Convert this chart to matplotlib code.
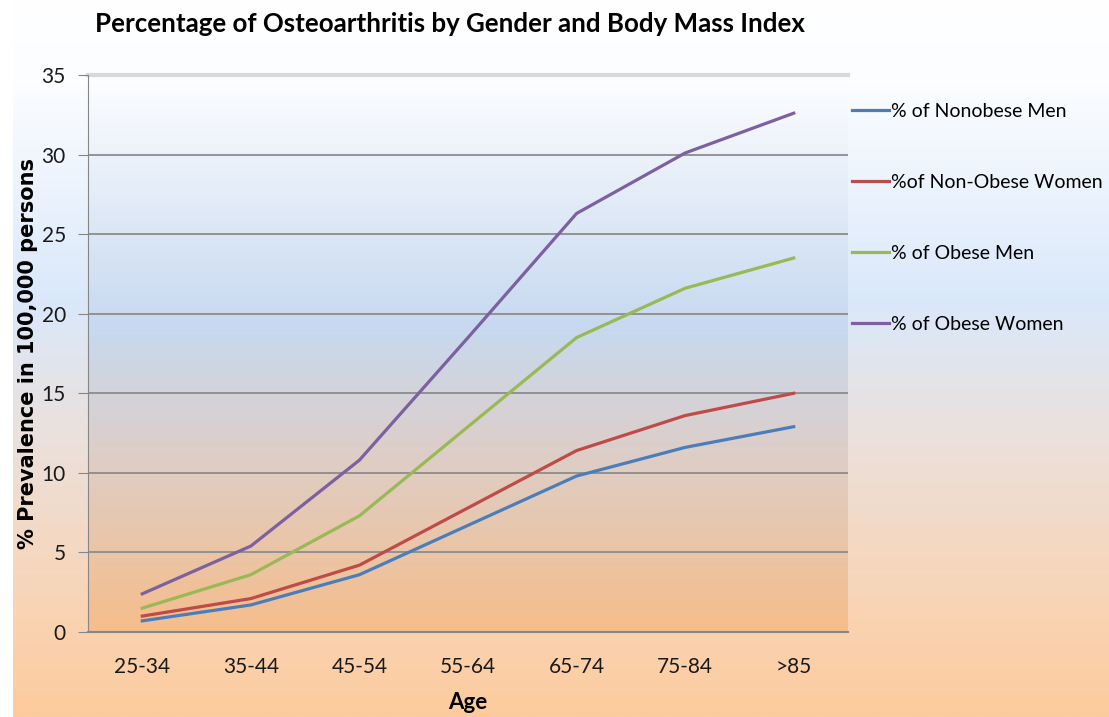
import numpy as np
import matplotlib.pyplot as plt
from matplotlib.colors import LinearSegmentedColormap

ages = ['25-34', '35-44', '45-54', '55-64', '65-74', '75-84', '>85']
nonobese_men = [0.7, 1.7, 3.6, 6.7, 9.8, 11.6, 12.9]
nonobese_women = [1.0, 2.1, 4.2, 7.8, 11.4, 13.6, 15.0]
obese_men = [1.5, 3.6, 7.3, 12.9, 18.5, 21.6, 23.5]
obese_women = [2.4, 5.4, 10.8, 18.5, 26.3, 30.1, 32.6]

labels = ['% of Nonobese Men', '%of Non-Obese Women', '% of Obese Men', '% of Obese Women']
colors = ['#4a7ebb', '#be4b48', '#98b954', '#7d60a0']

narrow = ['Lato', 'DejaVu Sans']

fig = plt.figure(figsize=(11.09, 7.17), dpi=100)
fig.patch.set_facecolor('white')

# background gradient of the whole chart area
bg_cmap = LinearSegmentedColormap.from_list('bg', [
    (0.0, '#ffffff'), (0.12, '#fbfdff'), (0.42, '#dae8fb'),
    (0.62, '#ece0da'), (0.85, '#f9d4b4'), (1.0, '#fdcb9d')])
bg = fig.add_axes([13 / 1109, 0, 1 - 13 / 1109, 1], zorder=-2)
bg.imshow(np.linspace(0, 1, 256).reshape(-1, 1), cmap=bg_cmap, aspect='auto',
          extent=[0, 1, 0, 1])
bg.axis('off')

ax = fig.add_axes([88 / 1109, 1 - 632 / 717, 760 / 1109, 557 / 717])
ax.set_facecolor('none')
pa_cmap = LinearSegmentedColormap.from_list('pa', [
    (0.0, '#fdfeff'), (0.45, '#c7d9f0'), (0.7, '#dfcdc4'), (1.0, '#f6bd8b')])
ax.imshow(np.linspace(0, 1, 256).reshape(-1, 1), cmap=pa_cmap, aspect='auto',
          extent=[-0.5, 6.5, 0, 35], zorder=0)

x = np.arange(len(ages))
for vals, lab, c in zip([nonobese_men, nonobese_women, obese_men, obese_women], labels, colors):
    ax.plot(x, vals, color=c, lw=2.3, label=lab, zorder=3)

ax.set_xlim(-0.5, 6.5)
ax.set_ylim(0, 35)
ax.set_yticks(range(0, 36, 5))
ax.set_xticks(x)
ax.set_xticklabels(ages)
for v in range(5, 35, 5):
    ax.axhline(v, color='#8c8c8c', lw=1.3, zorder=1)
ax.axhline(35, color='#d9d9d9', lw=3, zorder=1, clip_on=False)

for s in ['top', 'right']:
    ax.spines[s].set_visible(False)
ax.spines['left'].set_color('#868686')
ax.spines['bottom'].set_color('#868686')
ax.spines['bottom'].set_linewidth(1.5)
ax.tick_params(axis='y', length=7, color='#868686', labelsize=15, pad=9)
ax.tick_params(axis='x', length=0, labelsize=15, pad=18)
for t in ax.get_xticklabels() + ax.get_yticklabels():
    t.set_family(narrow)
    t.set_color('#1a1a1a')

ax.set_xlabel('Age', fontsize=16, fontweight='bold', family=narrow, labelpad=11)
ax.set_ylabel('% Prevalence in 100,000 persons', fontsize=15, fontweight='bold',
              family='DejaVu Sans')
ax.yaxis.set_label_coords(-0.066, 0.5)

fig.text(95 / 1109, 1 - 24 / 717, 'Percentage of Osteoarthritis by Gender and Body Mass Index',
         fontsize=18.6, fontweight='bold', family=narrow, va='center', ha='left')

leg = ax.legend(loc='upper left', bbox_to_anchor=(1.005, 0.95), frameon=False,
                borderaxespad=0, borderpad=0,
                handlelength=1.9, handletextpad=0.1, labelspacing=2.78,
                prop={'family': narrow, 'size': 14})

fig.savefig('out.png', dpi=100)
